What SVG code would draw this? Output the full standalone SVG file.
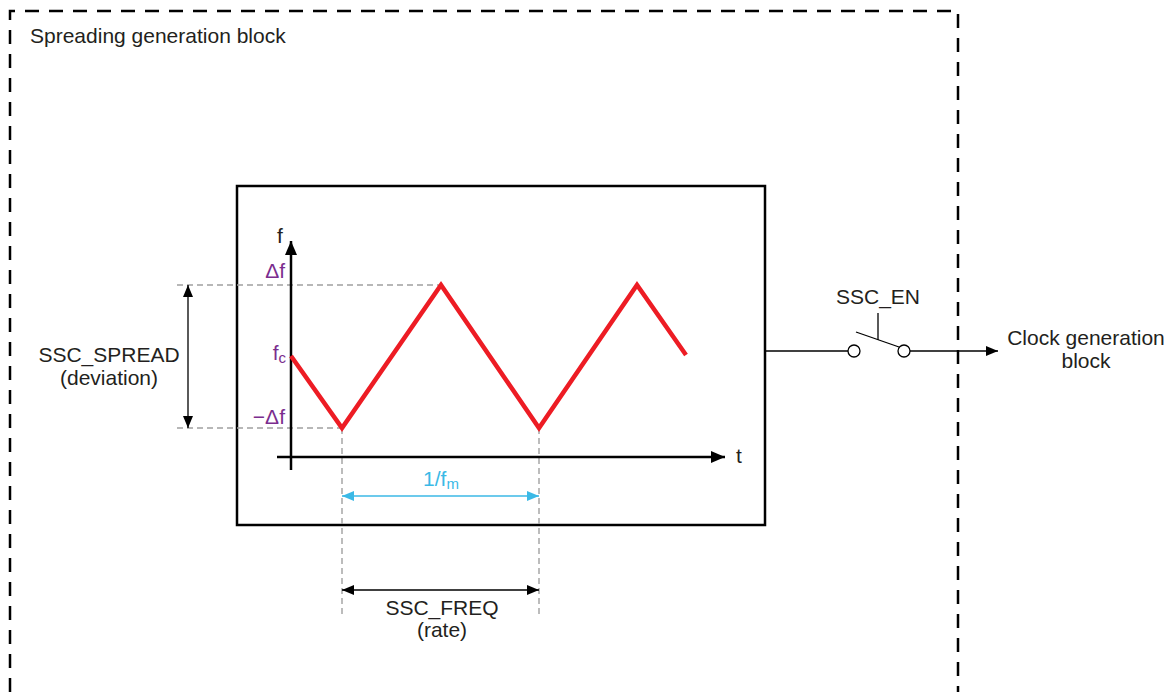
<svg xmlns="http://www.w3.org/2000/svg" width="1170" height="692" viewBox="0 0 1170 692">
<defs>
<style>
text{font-family:"Liberation Sans",Arial,sans-serif;font-size:21px;fill:#231F20}
.pur{fill:#7B2D8E}
.cy{fill:#3BB9E6}
.gd{stroke:#A0A0A0;stroke-width:1.4;stroke-dasharray:6 4;fill:none}
.blk{stroke:#000;fill:none}
</style>
<marker id="ah" viewBox="0 0 12 10" refX="12" refY="5" markerWidth="12" markerHeight="10" markerUnits="userSpaceOnUse" orient="auto-start-reverse"><path d="M0,0L12,5L0,10z" fill="#000"/></marker>
<marker id="ahb" viewBox="0 0 14 12" refX="14" refY="6" markerWidth="14" markerHeight="12" markerUnits="userSpaceOnUse" orient="auto-start-reverse"><path d="M0,0L14,6L0,12z" fill="#000"/></marker>
<marker id="ahc" viewBox="0 0 12 10" refX="12" refY="5" markerWidth="12" markerHeight="10" markerUnits="userSpaceOnUse" orient="auto-start-reverse"><path d="M0,0L12,5L0,10z" fill="#3BB9E6"/></marker>
</defs>
<g id="spreading-block">
<path d="M10 692V11H958V692" fill="none" stroke="#000" stroke-width="2.5" stroke-dasharray="14 10"/>
<text x="30" y="43">Spreading generation block</text>
</g>
<g id="graph-box">
<rect x="237" y="186" width="528" height="339" fill="none" stroke="#000" stroke-width="2.5"/>
</g>
<g id="guides">
<path class="gd" d="M177 285H441M177 428H342M342 428V617M539 428V617"/>
</g>
<g id="axes">
<line x1="291" y1="470" x2="291" y2="241" stroke="#000" stroke-width="2.5" marker-end="url(#ahb)"/>
<line x1="277" y1="457" x2="725" y2="457" stroke="#000" stroke-width="2.5" marker-end="url(#ahb)"/>
<text x="280" y="243" text-anchor="middle">f</text>
<text x="736" y="463">t</text>
<text class="pur" x="285" y="278" text-anchor="end">Δf</text>
<text class="pur" x="286" y="360" text-anchor="end">f<tspan font-size="15" dy="3">c</tspan></text>
<text class="pur" x="285" y="424" text-anchor="end">−Δf</text>
</g>
<g id="waveform">
<polyline points="291,356 342,428 441,285 539,428 637,285 686,355" fill="none" stroke="#ED1C24" stroke-width="4.5" stroke-linejoin="miter"/>
</g>
<g id="spread-dim">
<line x1="188" y1="285" x2="188" y2="428" stroke="#000" stroke-width="1.3" marker-start="url(#ah)" marker-end="url(#ah)"/>
<text x="109" y="362" text-anchor="middle">SSC_SPREAD</text>
<text x="109" y="385" text-anchor="middle">(deviation)</text>
</g>
<g id="period-dim">
<line x1="342" y1="496" x2="539" y2="496" stroke="#3BB9E6" stroke-width="1.6" marker-start="url(#ahc)" marker-end="url(#ahc)"/>
<text class="cy" x="441" y="486" text-anchor="middle">1/f<tspan font-size="15" dy="3">m</tspan></text>
</g>
<g id="freq-dim">
<line x1="342" y1="590" x2="539" y2="590" stroke="#000" stroke-width="1.3" marker-start="url(#ah)" marker-end="url(#ah)"/>
<text x="442" y="615" text-anchor="middle">SSC_FREQ</text>
<text x="442" y="637" text-anchor="middle">(rate)</text>
</g>
<g id="switch">
<line x1="765" y1="351" x2="848" y2="351" stroke="#000" stroke-width="1.3"/>
<circle cx="854" cy="351" r="6" fill="#fff" stroke="#000" stroke-width="1.3"/>
<line x1="856" y1="332" x2="899" y2="347" stroke="#000" stroke-width="1.3"/>
<line x1="878" y1="313" x2="878" y2="340" stroke="#000" stroke-width="1.3"/>
<circle cx="904" cy="351" r="6" fill="#fff" stroke="#000" stroke-width="1.3"/>
<line x1="910" y1="351" x2="998" y2="351" stroke="#000" stroke-width="1.3" marker-end="url(#ah)"/>
<text x="878" y="304" text-anchor="middle">SSC_EN</text>
</g>
<g id="clock-block">
<text x="1086" y="345" text-anchor="middle">Clock generation</text>
<text x="1086" y="368" text-anchor="middle">block</text>
</g>
</svg>
